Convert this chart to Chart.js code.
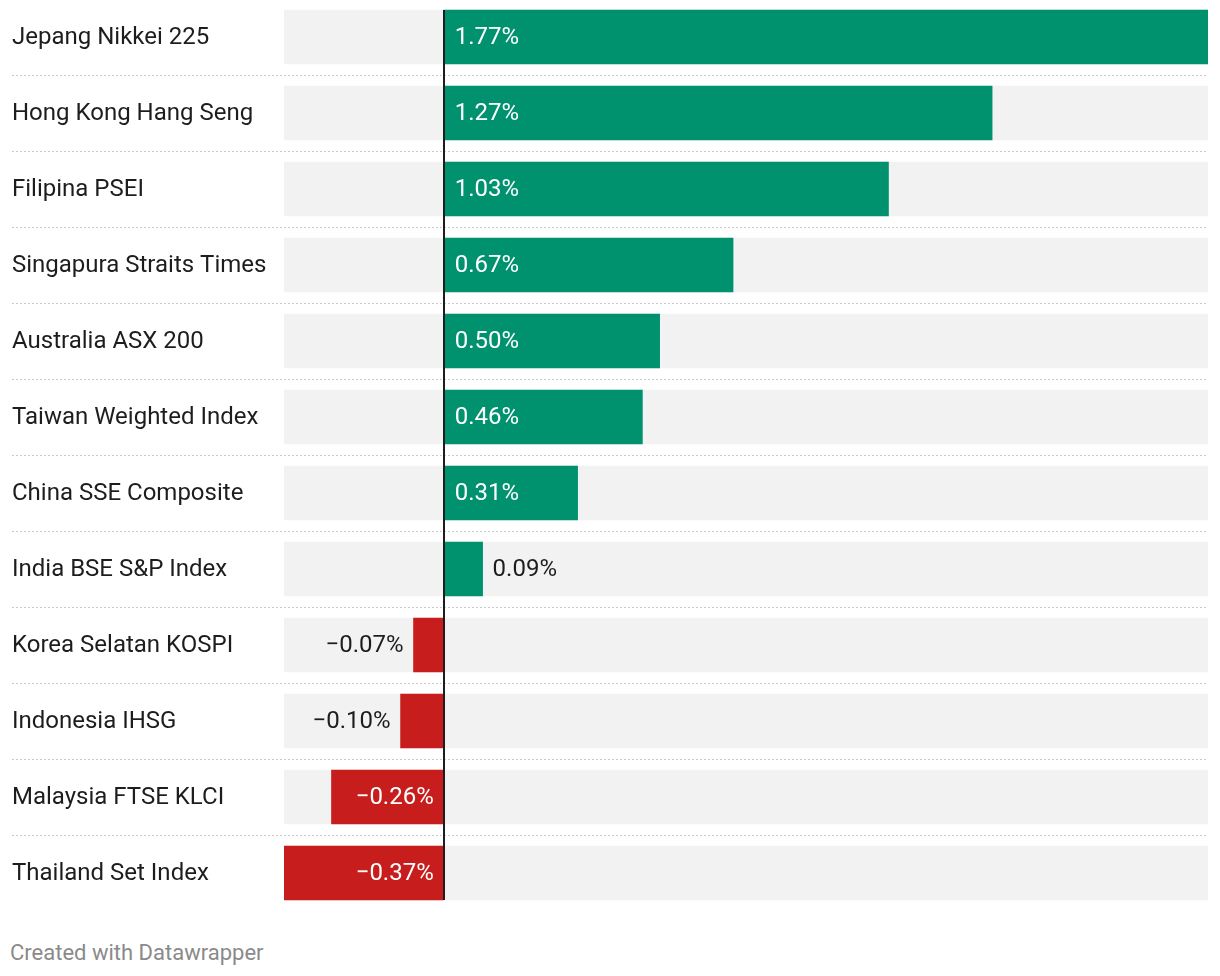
<!DOCTYPE html>
<html>
<head>
<meta charset="utf-8">
<script src="https://cdn.jsdelivr.net/npm/chart.js@4"></script>
<style>
  html, body { margin: 0; padding: 0; background: #ffffff; }
  body { width: 1220px; height: 976px; position: relative; overflow: hidden; font-family: Roboto, "Noto Sans", sans-serif; }
  #wrap { position: absolute; left: 0; top: -1px; width: 1220px; height: 912px; }
  #footer { position: absolute; left: 10px; top: 939px; font-size: 22px; line-height: 28px; color: #8a8a8a; font-family: Roboto, sans-serif; }
</style>
</head>
<body>
<div id="wrap"><canvas id="chart"></canvas></div>
<div id="footer">Created with Datawrapper</div>
<script>
const categories = [
  "Jepang Nikkei 225",
  "Hong Kong Hang Seng",
  "Filipina PSEI",
  "Singapura Straits Times",
  "Australia ASX 200",
  "Taiwan Weighted Index",
  "China SSE Composite",
  "India BSE S&P Index",
  "Korea Selatan KOSPI",
  "Indonesia IHSG",
  "Malaysia FTSE KLCI",
  "Thailand Set Index"
];
const values = [1.77, 1.27, 1.03, 0.67, 0.50, 0.46, 0.31, 0.09, -0.07, -0.10, -0.26, -0.37];

const minVal = Math.min(...values);
const maxVal = Math.max(...values);
const backgroundRanges = categories.map(() => [minVal, maxVal]);

const GREEN = '#00916f';
const RED = '#c71e1d';
const TEXT = '#1d1d1d';

function fmt(v) {
  const s = Math.abs(v).toFixed(2) + '%';
  return v < 0 ? '\u2212' + s : s;
}

const valueLabels = {
  id: 'valueLabels',
  afterDatasetsDraw(chart) {
    const ctx = chart.ctx;
    const meta = chart.getDatasetMeta(0);
    ctx.save();
    ctx.font = '24px Roboto';
    ctx.textBaseline = 'middle';
    meta.data.forEach((bar, i) => {
      const v = values[i];
      const txt = fmt(v);
      const tw = ctx.measureText(txt).width;
      const barW = Math.abs(bar.x - bar.base);
      const inside = barW > tw + 24;
      const y = bar.y + 1;
      if (v >= 0) {
        if (inside) { ctx.fillStyle = '#ffffff'; ctx.textAlign = 'left'; ctx.fillText(txt, bar.base + 11, y); }
        else { ctx.fillStyle = TEXT; ctx.textAlign = 'left'; ctx.fillText(txt, bar.x + 10, y); }
      } else {
        if (inside) { ctx.fillStyle = '#ffffff'; ctx.textAlign = 'right'; ctx.fillText(txt, bar.base - 10, y); }
        else { ctx.fillStyle = TEXT; ctx.textAlign = 'right'; ctx.fillText(txt, bar.x - 10, y); }
      }
    });
    ctx.restore();
  }
};

const zeroLine = {
  id: 'zeroLine',
  afterDatasetsDraw(chart) {
    const ctx = chart.ctx;
    const x = chart.scales.x.getPixelForValue(0);
    const bars = chart.getDatasetMeta(1).data;
    const first = bars[0], last = bars[bars.length - 1];
    const top = first.y - first.height / 2;
    const bottom = last.y + last.height / 2;
    ctx.save();
    ctx.strokeStyle = '#1d1d1d';
    ctx.lineWidth = 2;
    ctx.beginPath();
    ctx.moveTo(Math.round(x), top);
    ctx.lineTo(Math.round(x), bottom);
    ctx.stroke();
    ctx.restore();
  }
};

const sepColor = (c) => (c.type !== 'tick' || c.index === 0) ? 'rgba(0,0,0,0)' : '#cccccc';

new Chart(document.getElementById('chart'), {
  type: 'bar',
  data: {
    labels: categories,
    datasets: [
      {
        label: 'Change',
        data: values,
        backgroundColor: values.map(v => v >= 0 ? GREEN : RED),
        barThickness: 54,
        grouped: false,
        order: 0
      },
      {
        label: 'Range',
        data: backgroundRanges,
        backgroundColor: '#f2f2f2',
        barThickness: 54,
        grouped: false,
        order: 1
      }
    ]
  },
  options: {
    indexAxis: 'y',
    responsive: true,
    maintainAspectRatio: false,
    animation: false,
    layout: { padding: { left: 12, right: 12, top: 0, bottom: 0 } },
    plugins: { legend: { display: false }, tooltip: { enabled: false } },
    scales: {
      x: {
        display: false,
        min: minVal,
        max: maxVal
      },
      y: {
        afterFit(scale) { scale.width = 272; scale.paddingTop = 0; scale.paddingBottom = 0; },
        border: { display: false, dash: [2, 2] },
        grid: {
          offset: true,
          color: sepColor,
          lineWidth: 1,
          drawTicks: true,
          tickLength: 272,
          tickColor: sepColor,
          tickBorderDash: [2, 2],
          tickWidth: 1
        },
        ticks: {
          crossAlign: 'far',
          padding: 0,
          labelOffset: 1,
          color: TEXT,
          font: { family: 'Roboto', size: 24 }
        }
      }
    }
  },
  plugins: [valueLabels, zeroLine]
});
</script>
</body>
</html>
